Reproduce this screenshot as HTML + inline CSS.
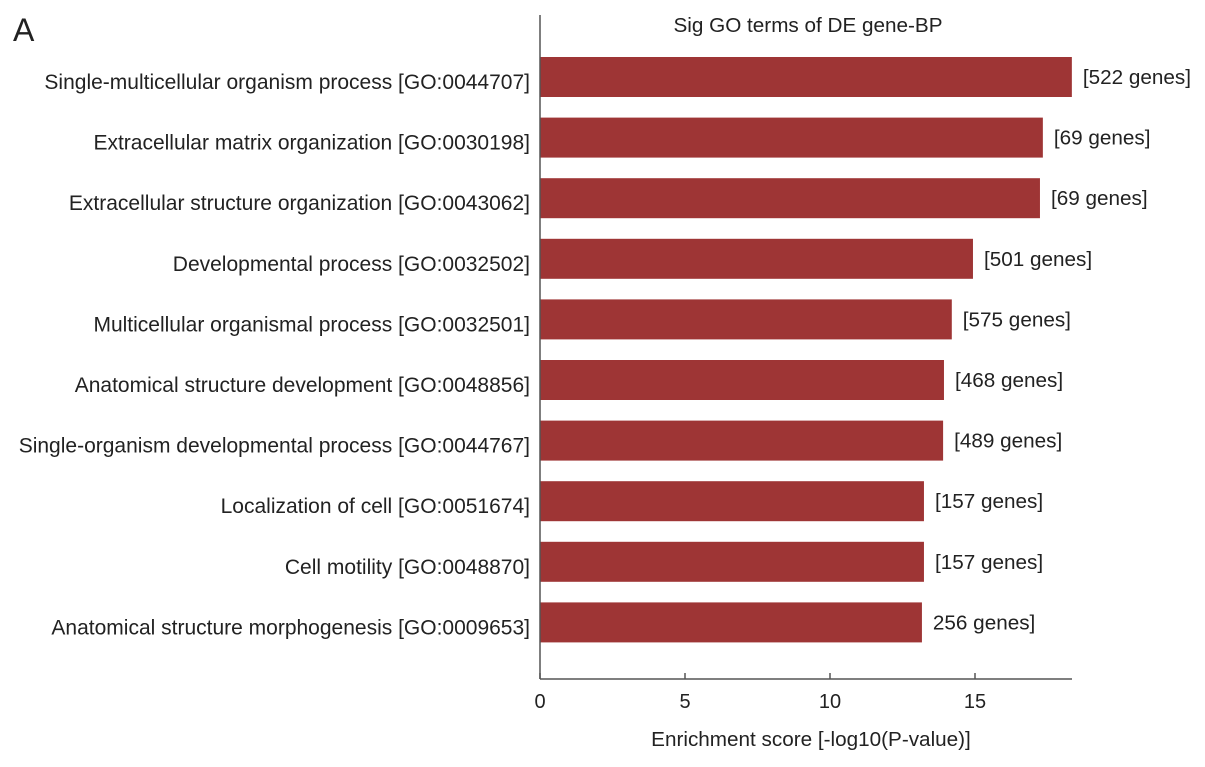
<!DOCTYPE html>
<html><head><meta charset="utf-8"><style>
body{margin:0;background:#fff;font-family:"Liberation Sans",Arial,sans-serif;}
svg text{font-family:"Liberation Sans",Arial,sans-serif;fill:#222;}
</style></head><body>
<svg id="chart" width="1205" height="762">
<text x="13" y="41" font-size="32">A</text>
<text x="808" y="32" font-size="20.7" text-anchor="middle">Sig GO terms of DE gene-BP</text>
<g id="bars"></g>
<g id="axis"></g>
<text x="811" y="746" font-size="20.7" text-anchor="middle">Enrichment score [-log10(P-value)]</text>
</svg>
<script>
const categories=["Single-multicellular organism process [GO:0044707]","Extracellular matrix organization [GO:0030198]","Extracellular structure organization [GO:0043062]","Developmental process [GO:0032502]","Multicellular organismal process [GO:0032501]","Anatomical structure development [GO:0048856]","Single-organism developmental process [GO:0044767]","Localization of cell [GO:0051674]","Cell motility [GO:0048870]","Anatomical structure morphogenesis [GO:0009653]"];
const values=[18.34,17.34,17.24,14.93,14.2,13.93,13.9,13.24,13.24,13.17];
const geneLabels=["[522 genes]","[69 genes]","[69 genes]","[501 genes]","[575 genes]","[468 genes]","[489 genes]","[157 genes]","[157 genes]","256 genes]"];
const ticks=[0,5,10,15];
const NS="http://www.w3.org/2000/svg";
const x0=540,pxPer=29,axisY=679,axisEnd=1072;
const xs=v=>x0+v*pxPer;
const yc=i=>77+i*60.6;
const bars=document.getElementById('bars'),axis=document.getElementById('axis');
function mk(tag,attrs,parent){const e=document.createElementNS(NS,tag);for(const k in attrs)e.setAttribute(k,attrs[k]);parent.appendChild(e);return e;}
categories.forEach((c,i)=>{
 const r=mk('rect',{x:x0,y:yc(i)-20,width:xs(values[i])-x0,height:40,fill:'#9e3535'},bars);
 
 
 const t=mk('text',{x:530,y:yc(i)+12,'font-size':21,'text-anchor':'end'},bars);
 t.textContent=c;
 
 
 const g=mk('text',{x:xs(values[i])+11,y:yc(i)+7,'font-size':20.7},bars);
 g.textContent=geneLabels[i];
 
 
});
const yl=mk('line',{x1:x0,y1:15,x2:x0,y2:axisY,stroke:'#555','stroke-width':1.5},axis);


const xl=mk('line',{x1:x0,y1:axisY,x2:axisEnd,y2:axisY,stroke:'#555','stroke-width':1.5},axis);


ticks.forEach(v=>{
 const l=mk('line',{x1:xs(v),y1:axisY,x2:xs(v),y2:axisY-6,stroke:'#555','stroke-width':1.5},axis);
 
 
 const t=mk('text',{x:xs(v),y:708,'font-size':20,'text-anchor':'middle'},axis);
 t.textContent=v;
 
 
});
</script>
</body></html>
